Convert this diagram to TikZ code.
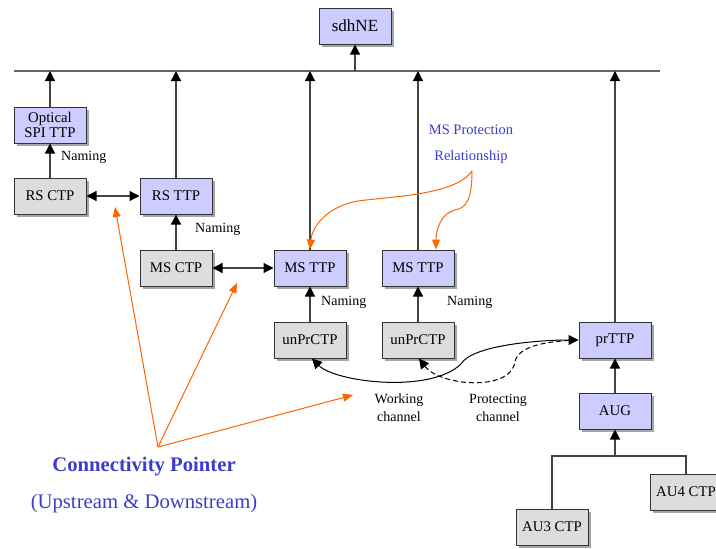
\documentclass[tikz,border=0pt]{standalone}
\usepackage{fontspec}
\setmainfont{Liberation Serif}
\usetikzlibrary{arrows.meta,shadows}
\definecolor{boxblue}{HTML}{CCCCFF}
\definecolor{boxgrey}{HTML}{DDDDDD}
\definecolor{edgegrey}{HTML}{333333}
\definecolor{linegrey}{HTML}{444444}
\definecolor{busgrey}{HTML}{666666}
\definecolor{noteblue}{HTML}{3D3DCC}
\definecolor{pointer}{HTML}{FF6600}
\tikzset{
  base/.style={draw=edgegrey, line width=1pt, minimum width=72pt, minimum height=36pt,
    inner sep=1pt, align=center, font=\fontsize{14.8}{15}\selectfont,
    drop shadow={shadow xshift=3pt, shadow yshift=-3pt, fill=black!35, opacity=1}},
  ttp/.style={base, fill=boxblue},
  ctp/.style={base, fill=boxgrey},
  link/.style={draw=linegrey, line width=1.2pt, -{Triangle[length=10pt,width=10pt,color=black]}},
  dlink/.style={draw=linegrey, line width=1.2pt, {Triangle[length=10pt,width=10pt,color=black]}-{Triangle[length=10pt,width=10pt,color=black]}},
  chan/.style={draw=black, line width=1pt},
  orange/.style={draw=pointer, line width=1pt, -{Triangle[length=10pt,width=8pt,color=pointer]}},
  lbl/.style={font=\fontsize{14}{18}\selectfont, align=center, inner sep=0pt},
  note/.style={text=noteblue, font=\fontsize{14.5}{26}\selectfont, align=center, inner sep=0pt}
}
\begin{document}
\begin{tikzpicture}[x=1pt, y=-1pt]
\clip (0,0) rectangle (716,549);
\fill[white] (0,0) rectangle (716,549);

% managed element and the common bus
\node[ttp, font=\fontsize{17}{18}\selectfont] (sdh) at (355,26) {sdhNE};
\coordinate (busL) at (14,71);
\coordinate (busR) at (660,71);
\draw[busgrey, line width=2pt] (busL) -- (busR);

% termination and connection points
\node[ttp] (spi)   at (50,125)  {Optical\\SPI TTP};
\node[ctp] (rsctp) at (50,196)  {RS CTP};
\node[ttp] (rsttp) at (176,196) {RS TTP};
\node[ctp] (msctp) at (176,268) {MS CTP};
\node[ttp] (ms1)   at (310,268) {MS TTP};
\node[ttp] (ms2)   at (418,268) {MS TTP};
\node[ctp] (un1)   at (310,340) {unPrCTP};
\node[ctp] (un2)   at (418,340) {unPrCTP};
\node[ttp] (pr)    at (615,340) {prTTP};
\node[ttp] (aug)   at (615,411) {AUG};
\node[ctp] (au3)   at (552,527) {AU3 CTP};
\node[ctp] (au4)   at (686,492) {AU4 CTP};

% containment towards the bus
\draw[link] (sdh.south |- busL) -- (sdh.south);
\draw[link] (spi.north) -- (spi.north |- busL);
\draw[link] (rsttp.north) -- (rsttp.north |- busL);
\draw[link] (ms1.north) -- (ms1.north |- busL);
\draw[link] (ms2.north) -- (ms2.north |- busL);
\draw[link] (pr.north) -- (pr.north |- busL);

% naming relations
\draw[link] (rsctp) -- (spi);
\draw[link] (msctp) -- (rsttp);
\draw[link] (un1) -- (ms1);
\draw[link] (un2) -- (ms2);
\draw[link] (aug) -- (pr);
\node[lbl, anchor=west] (n1) at (61,157) {Naming};
\node[lbl, anchor=west] (n2) at (195,229) {Naming};
\node[lbl, anchor=west] (n3) at (321,302) {Naming};
\node[lbl, anchor=west] (n4) at (447,302) {Naming};

% connections
\draw[dlink] (rsctp) -- (rsttp);
\draw[dlink] (msctp) -- (ms1);

% AU tree under AUG
\coordinate (fork) at (615,456);
\draw[link] (fork) -- (aug);
\draw[linegrey, line width=1.2pt] (au3.north) -- (au3.north |- fork) -- (au4.north |- fork) -- (au4.north);

% working and protecting channels
\draw[chan, {Triangle[length=10pt,width=10pt]}-{Triangle[length=10pt,width=10pt]}]
  ([xshift=2pt]un1.south) .. controls (335,382) and (430,394) .. (461,364)
  .. controls (472,345) and (540,340) .. (pr.west);
\draw[chan, dashed, dash pattern=on 5pt off 3pt, {Triangle[length=10pt,width=10pt]}-]
  ([xshift=1pt]un2.south) .. controls (440,386) and (510,392) .. (515,362)
  .. controls (518,345) and (550,341) .. (pr.west);
\node[lbl] (wc) at (399,408) {Working\\channel};
\node[lbl] (pc) at (498,408) {Protecting\\channel};

% protection relationship
\node[note] (prot) at (471,144) {MS Protection\\Relationship};
\coordinate (pf) at (472,171);
\draw[orange] (pf) .. controls (455,195) and (395,196) .. (358,201)
  .. controls (325,207) and (312,228) .. (ms1.north);
\draw[orange] (pf) .. controls (472,200) and (466,208) .. (455,210)
  .. controls (441,213) and (436,230) .. ([xshift=18pt]ms2.north);

% connectivity pointers
\coordinate (cp) at (158,447);
\coordinate (cp1) at (115,207);
\coordinate (cp2) at (237,283);
\coordinate (cp3) at (353,395);
\draw[orange] (cp) -- (cp1);
\draw[orange] (cp) -- (cp2);
\draw[orange] (cp) -- (cp3);
\node[text=noteblue, font=\fontsize{20.7}{22}\selectfont\bfseries] (cpt) at (144,467) {Connectivity Pointer};
\node[text=noteblue, font=\fontsize{20.7}{22}\selectfont] (cps) at (144,504) {(Upstream \& Downstream)};
\end{tikzpicture}
\end{document}
